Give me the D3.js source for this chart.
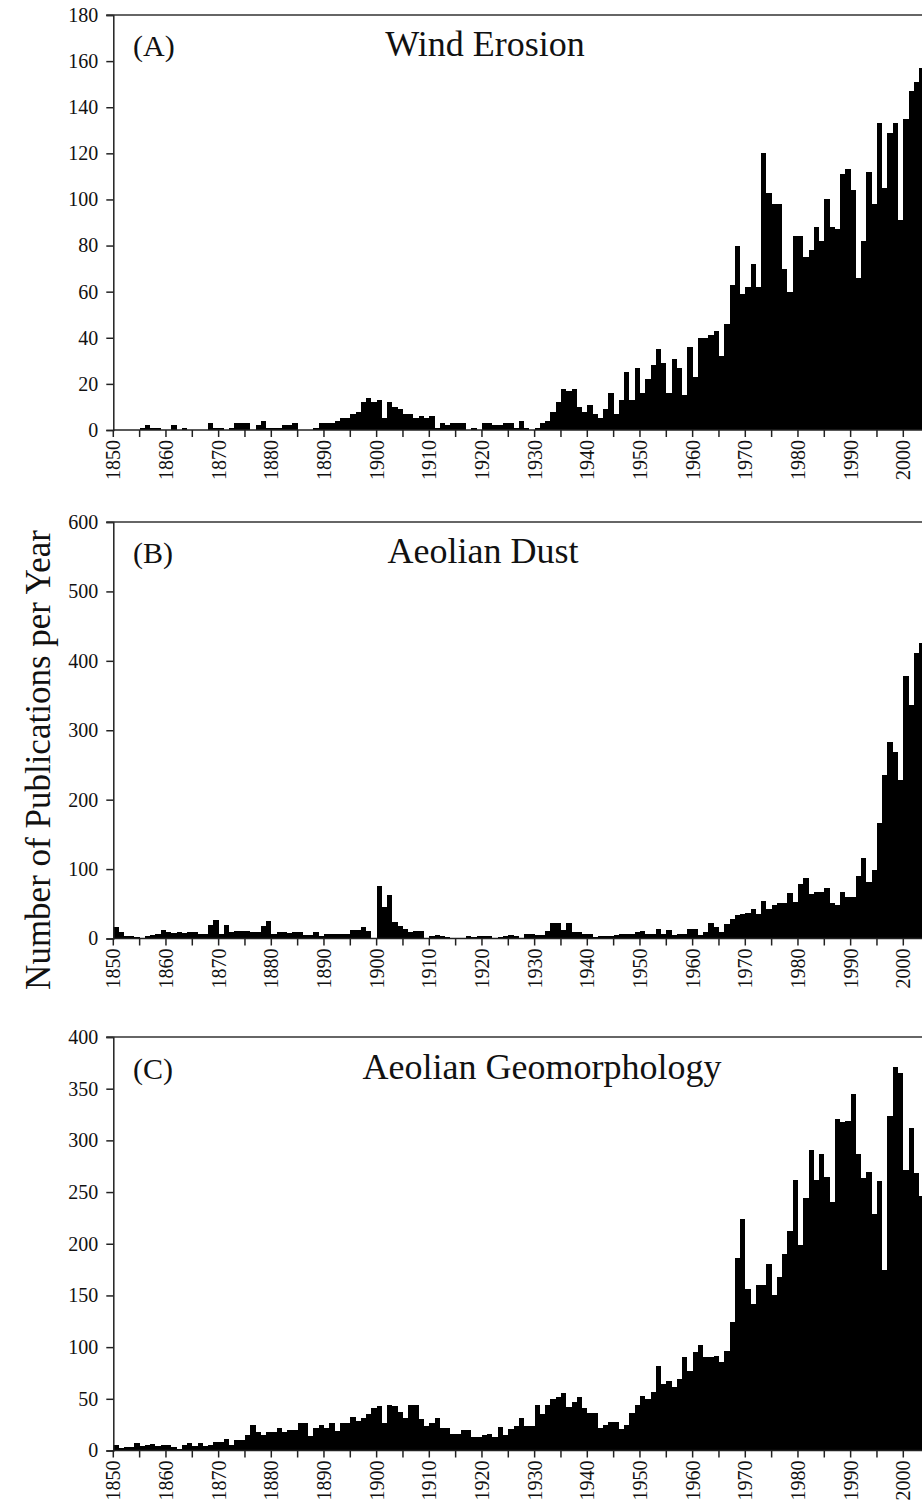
<!DOCTYPE html>
<html>
<head>
<meta charset="utf-8">
<script src="https://cdn.jsdelivr.net/npm/d3@7/dist/d3.min.js"></script>
<style>
  body { margin: 0; background: #fff; }
  svg text { font-family: "Liberation Serif", "Times New Roman", serif; fill: #111; }
</style>
</head>
<body>
<svg id="chart" width="922" height="1510"></svg>
<script>
// publications per year, 1850 .. 2003
var firstYear = 1850;

var windErosion = [
  0, 0, 0, 0, 0, 1, 2, 1, 1, 0,
  0, 2, 0, 1, 0, 0, 0, 0, 3, 1,
  1, 0, 1, 3, 3, 3, 0, 2, 4, 1,
  1, 1, 2, 2, 3, 0, 0, 0, 1, 3,
  3, 3, 4, 5, 5, 7, 8, 12, 14, 12,
  13, 5, 12, 10, 9, 7, 7, 5, 6, 5,
  6, 1, 3, 2, 3, 3, 3, 0, 1, 0,
  3, 3, 2, 2, 3, 3, 1, 4, 1, 0,
  1, 3, 4, 8, 12, 18, 17, 18, 10, 8,
  11, 7, 5, 9, 16, 7, 13, 25, 13, 27,
  16, 22, 28, 35, 29, 16, 31, 27, 15, 36,
  23, 40, 40, 41, 43, 32, 46, 63, 80, 59,
  62, 72, 62, 120, 103, 98, 98, 70, 60, 84,
  84, 75, 78, 88, 82, 100, 88, 87, 111, 113,
  104, 66, 82, 112, 98, 133, 105, 129, 133, 91,
  135, 147, 151, 157
];

var aeolianDust = [
  16, 10, 4, 4, 2, 0, 4, 5, 6, 12,
  10, 8, 9, 8, 9, 9, 6, 6, 19, 27,
  6, 19, 10, 11, 11, 11, 9, 9, 18, 25,
  6, 9, 9, 8, 9, 9, 5, 5, 10, 3,
  6, 6, 7, 7, 7, 12, 12, 16, 11, 0,
  76, 45, 63, 24, 18, 14, 10, 11, 11, 0,
  4, 5, 3, 2, 1, 1, 0, 3, 2, 4,
  4, 4, 1, 2, 3, 5, 3, 1, 6, 6,
  5, 5, 11, 22, 22, 12, 22, 10, 10, 6,
  6, 2, 4, 4, 4, 5, 6, 7, 7, 9,
  11, 7, 7, 14, 6, 12, 5, 6, 6, 13,
  13, 5, 9, 22, 17, 9, 21, 28, 34, 36,
  37, 43, 36, 54, 42, 48, 51, 51, 66, 52,
  79, 87, 64, 67, 67, 73, 51, 48, 67, 60,
  60, 90, 116, 81, 99, 167, 235, 283, 269, 228,
  378, 336, 411, 426
];

var aeolianGeomorph = [
  5, 2, 3, 3, 7, 4, 5, 6, 4, 5,
  5, 3, 1, 5, 7, 4, 7, 4, 5, 8,
  8, 11, 5, 10, 10, 15, 25, 18, 15, 18,
  18, 22, 18, 20, 20, 27, 27, 14, 22, 25,
  22, 27, 19, 27, 27, 32, 29, 31, 35, 41,
  43, 27, 44, 43, 37, 31, 44, 44, 30, 24,
  27, 31, 22, 22, 16, 16, 20, 20, 13, 13,
  15, 16, 13, 23, 15, 21, 24, 31, 24, 24,
  44, 35, 44, 50, 52, 56, 42, 47, 52, 41,
  36, 36, 22, 25, 28, 28, 21, 25, 36, 44,
  53, 50, 57, 82, 64, 67, 61, 69, 90, 77,
  95, 102, 90, 90, 91, 86, 96, 124, 186, 224,
  156, 142, 160, 160, 180, 150, 168, 190, 212, 262,
  199, 244, 291, 262, 287, 265, 240, 321, 318, 319,
  345, 287, 264, 269, 229, 261, 175, 324, 371, 365,
  271, 312, 268, 246
];

var panelLetters = ["(A)", "(B)", "(C)"];
var panelTitles = ["Wind Erosion", "Aeolian Dust", "Aeolian Geomorphology"];
var yMaxes = [180, 600, 400];
var yStepsList = [20, 100, 50];
var xTickYears = d3.range(1850, 2001, 10);
var xMinorYears = d3.range(1850, 2026, 5);

var svg = d3.select("#chart");

var left = 113.3;
var x = d3.scaleLinear().domain([1850, 2000]).range([left, 903.3]);

// vertical placement of each panel: top (max value) and baseline
var panels = [
  { data: windErosion,     top: 15,   bottom: 430,   titleX: 485, titleY: 56 },
  { data: aeolianDust,     top: 522,  bottom: 938.5, titleX: 483, titleY: 563 },
  { data: aeolianGeomorph, top: 1037, bottom: 1450.5, titleX: 542, titleY: 1079 }
];

panels.forEach(function(p, i) {
  var y = d3.scaleLinear().domain([0, yMaxes[i]]).range([p.bottom, p.top]);
  var g = svg.append("g").attr("class", "panel");

  // bars - snapped to whole pixels so neighbours touch without seams
  g.selectAll("rect.bar").data(p.data).enter().append("rect")
    .attr("class", "bar")
    .attr("shape-rendering", "crispEdges")
    .attr("x", function(d, k) { return Math.round(x(firstYear + k)); })
    .attr("width", function(d, k) {
      return Math.round(x(firstYear + k + 1)) - Math.round(x(firstYear + k));
    })
    .attr("y", function(d) { return Math.round(y(d)); })
    .attr("height", function(d) { return Math.round(p.bottom) - Math.round(y(d)); })
    .attr("fill", "#000");

  // y axis
  var yAxis = d3.axisLeft(y)
    .tickValues(d3.range(0, yMaxes[i] + 1, yStepsList[i]))
    .tickSize(7).tickPadding(8);
  var ya = g.append("g").attr("transform", "translate(" + left + ",0)").call(yAxis);
  ya.select(".domain").attr("stroke", "#222").attr("stroke-width", 1.5);
  ya.selectAll(".tick line").attr("stroke", "#222").attr("stroke-width", 1.5);
  ya.selectAll(".tick text").attr("font-size", 20)
    .style("font-family", "Liberation Serif, serif").attr("fill", "#111");

  // top frame line
  g.append("line").attr("x1", left - 7).attr("x2", 922)
    .attr("y1", p.top).attr("y2", p.top)
    .attr("stroke", "#333").attr("stroke-width", 1.5);

  // x axis: baseline, ticks every 5 years, labels every 10
  g.append("line").attr("x1", left).attr("x2", 922)
    .attr("y1", p.bottom).attr("y2", p.bottom)
    .attr("stroke", "#222").attr("stroke-width", 1.5);
  g.selectAll("line.xtick").data(xMinorYears).enter().append("line")
    .attr("class", "xtick")
    .attr("x1", function(d) { return x(d); }).attr("x2", function(d) { return x(d); })
    .attr("y1", p.bottom).attr("y2", p.bottom + 7)
    .attr("stroke", "#222").attr("stroke-width", 1.5);
  g.selectAll("text.xlab").data(xTickYears).enter().append("text")
    .attr("class", "xlab")
    .attr("transform", function(d) { return "translate(" + x(d) + "," + (p.bottom + 10) + ") rotate(-90)"; })
    .attr("text-anchor", "end")
    .attr("dy", "0.35em")
    .attr("font-size", 20)
    .text(function(d) { return d; });

  // panel letter and title
  g.append("text").attr("x", 133).attr("y", p.titleY)
    .attr("font-size", 30).text(panelLetters[i]);
  g.append("text").attr("x", p.titleX).attr("y", p.titleY)
    .attr("text-anchor", "middle").attr("font-size", 36).text(panelTitles[i]);
});

// shared y axis title
svg.append("text")
  .attr("transform", "translate(50,760) rotate(-90)")
  .attr("text-anchor", "middle")
  .attr("font-size", 35)
  .text("Number of Publications per Year");
</script>
</body>
</html>
